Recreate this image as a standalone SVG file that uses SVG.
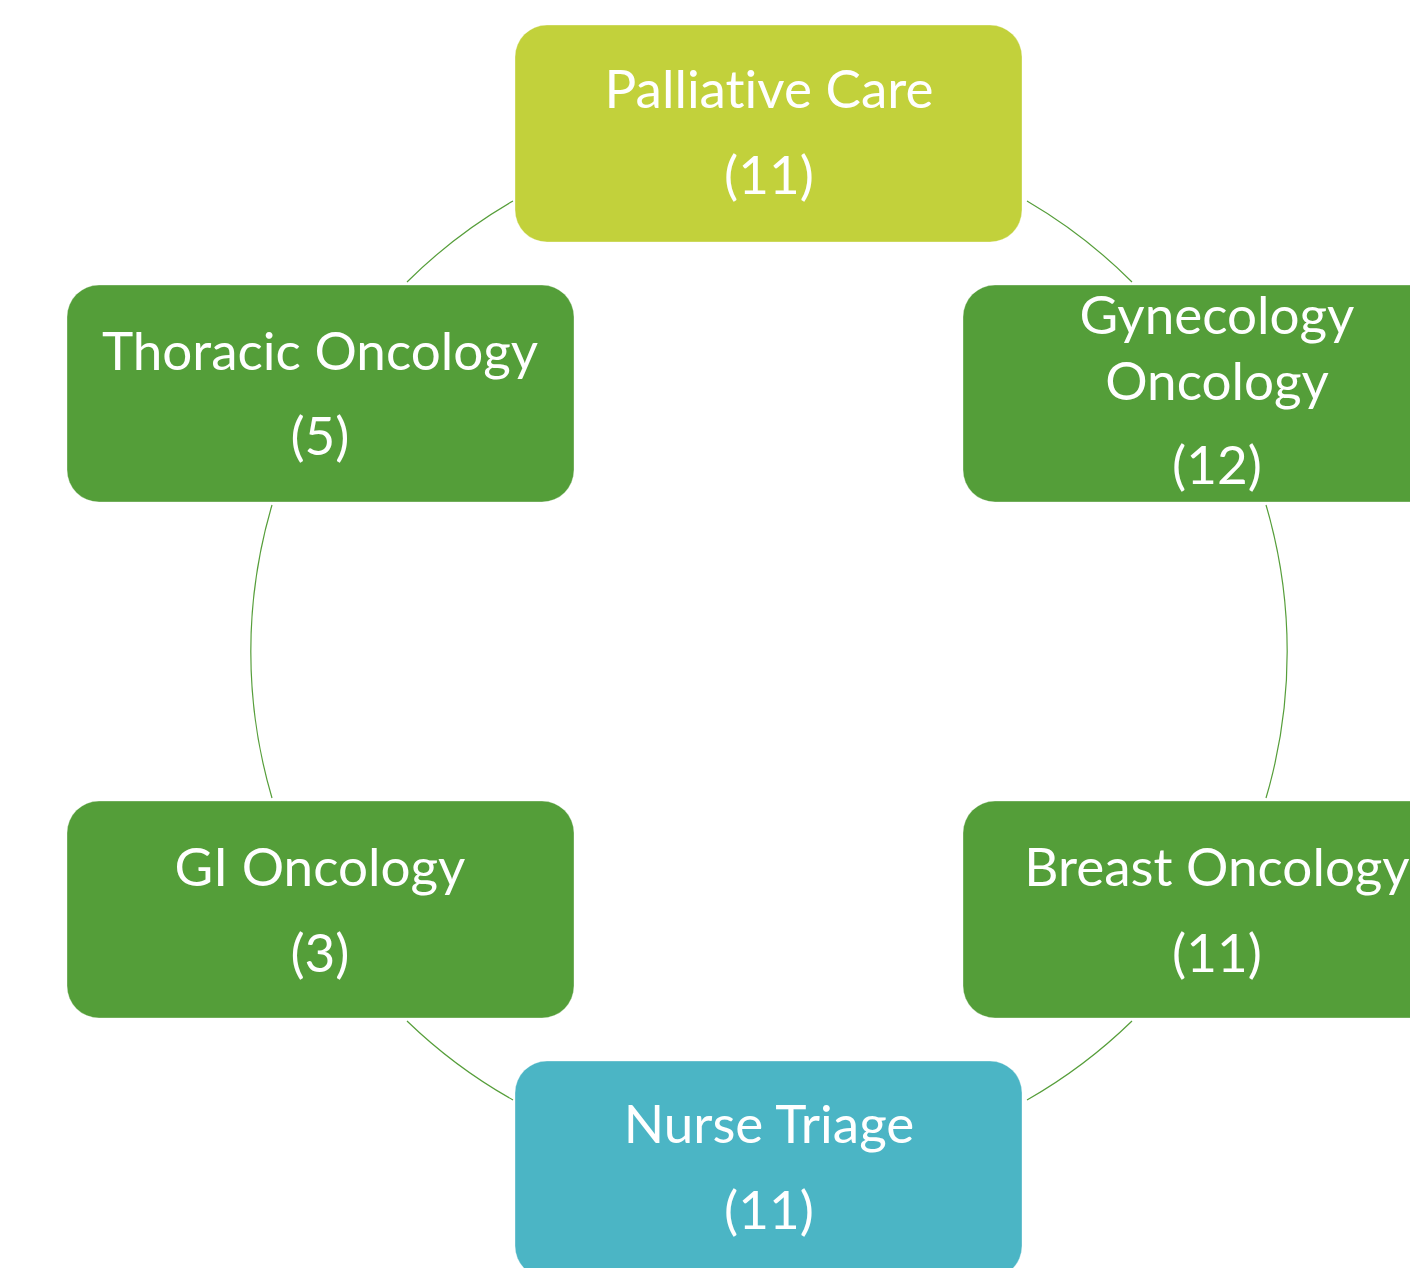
<svg xmlns="http://www.w3.org/2000/svg" width="1410" height="1268" viewBox="0 0 1410 1268">
<style>
.n rect{stroke:#ffffff;stroke-opacity:0.35;stroke-width:1}
.lime{fill:#c2d13b}
.green{fill:#549e39}
.teal{fill:#4bb5c5}
text{font-family:"Lato","Open Sans",sans-serif;font-size:53px;fill:#ffffff;text-anchor:middle;font-variant-ligatures:none}
.c path{fill:none;stroke:#569e3a;stroke-width:1.2}
</style>
<rect width="1410" height="1268" fill="#ffffff"/>
<g class="c" id="connectors">
<path d="M513,201 A517,517 0 0 0 407,282"/>
<path d="M272,505 A517,517 0 0 0 272,798"/>
<path d="M407,1021 A517,517 0 0 0 513,1100"/>
<path d="M1027,1100 A517,517 0 0 0 1132,1021"/>
<path d="M1266,798 A517,517 0 0 0 1266,505"/>
<path d="M1132,282 A517,517 0 0 0 1027,201"/>
</g>
<g class="n" id="palliative"><rect class="lime" x="515" y="25" width="507" height="217" rx="32"/><text x="769" y="108">Palliative Care</text><text x="769" y="194">(11)</text></g>
<g class="n" id="gynecology"><rect class="green" x="963" y="285" width="507" height="217" rx="32"/><text x="1217" y="334">Gynecology</text><text x="1217" y="400">Oncology</text><text x="1217" y="484">(12)</text></g>
<g class="n" id="breast"><rect class="green" x="963" y="801" width="507" height="217" rx="32"/><text x="1217" y="886">Breast Oncology</text><text x="1217" y="972">(11)</text></g>
<g class="n" id="nurse"><rect class="teal" x="515" y="1061" width="507" height="217" rx="32"/><text x="769" y="1143">Nurse Triage</text><text x="769" y="1229">(11)</text></g>
<g class="n" id="gi"><rect class="green" x="67" y="801" width="507" height="217" rx="32"/><text x="320" y="886">GI Oncology</text><text x="320" y="972">(3)</text></g>
<g class="n" id="thoracic"><rect class="green" x="67" y="285" width="507" height="217" rx="32"/><text x="320" y="370">Thoracic Oncology</text><text x="320" y="455">(5)</text></g>
</svg>
